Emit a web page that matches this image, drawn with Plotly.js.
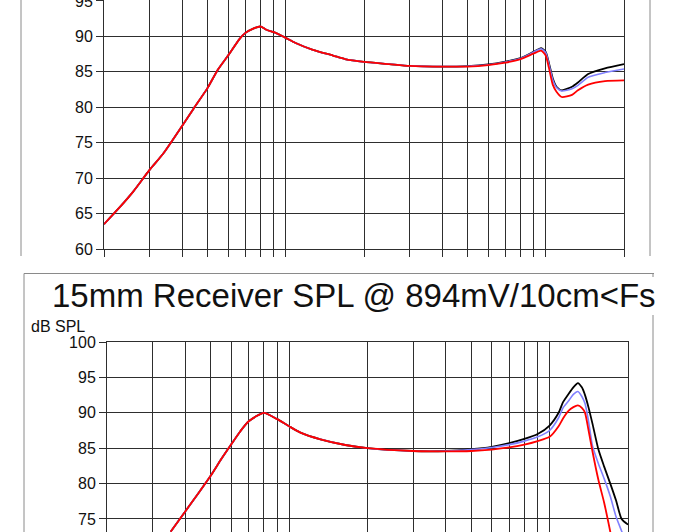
<!DOCTYPE html>
<html>
<head>
<meta charset="utf-8">
<script src="https://cdn.plot.ly/plotly-3.0.1.min.js"></script>
<style>
html,body{margin:0;padding:0;background:#fff;}
#chart{width:690px;height:532px;}
</style>
</head>
<body>
<div id="chart"></div>
<script>
// ---------- Data ----------
// Top chart (cropped): frequency in Hz, SPL in dB
const topFreq  = [200, 230, 259, 300, 337, 400, 444, 500, 548, 600, 666, 700, 750, 800, 848, 900, 1000, 1086, 1272, 1520, 1690, 2000, 2500, 3000, 4000, 5000, 6000, 7000, 8000, 9000, 9600, 10000, 10280, 10640, 11000, 11520, 12620, 13300, 14560, 16900, 20000];
const topRed   = [63.5, 65.9, 68.1, 71.2, 73.4, 77.4, 79.9, 82.7, 85.3, 87.3, 89.7, 90.5, 91.1, 91.4, 90.9, 90.6, 89.8, 89.1, 88.1, 87.3, 86.8, 86.4, 86.1, 85.85, 85.75, 85.75, 85.95, 86.3, 86.8, 87.6, 88.0, 87.3, 85.6, 83.2, 82.2, 81.45, 81.75, 82.4, 83.2, 83.7, 83.8];
const topBlue  = [63.5, 65.9, 68.1, 71.2, 73.4, 77.4, 79.9, 82.7, 85.3, 87.3, 89.7, 90.5, 91.1, 91.4, 90.9, 90.6, 89.8, 89.1, 88.1, 87.3, 86.8, 86.4, 86.1, 85.85, 85.75, 85.8, 86.0, 86.4, 86.9, 87.8, 88.25, 87.7, 86.1, 83.9, 82.8, 82.3, 82.6, 83.1, 84.25, 84.9, 85.4];
const topBlack = [63.5, 65.9, 68.1, 71.2, 73.4, 77.4, 79.9, 82.7, 85.3, 87.3, 89.7, 90.5, 91.1, 91.4, 90.9, 90.6, 89.8, 89.1, 88.1, 87.3, 86.8, 86.4, 86.1, 85.85, 85.75, 85.82, 86.05, 86.45, 86.95, 87.85, 88.35, 87.8, 86.3, 84.1, 82.9, 82.4, 82.9, 83.5, 84.7, 85.5, 86.1];

// Bottom chart: 15mm Receiver SPL
const botFreq  = [351, 400, 450, 500, 550, 600, 650, 700, 800, 900, 1000, 1106, 1320, 1644, 2000, 3000, 4000, 5000, 6000, 7000, 8000, 9000, 10000, 10830, 11260, 11840, 12340, 12840, 13300, 13680, 14100, 14600, 15400, 16200, 17100, 18000, 18900, 20000];
const botRed   = [73.2, 76.1, 78.7, 81.1, 83.5, 85.55, 87.4, 88.8, 90.0, 89.1, 88.1, 87.2, 86.25, 85.45, 85.0, 84.6, 84.55, 84.6, 84.8, 85.1, 85.5, 86.0, 86.6, 88.1, 89.2, 90.3, 90.8, 91.05, 90.7, 90.0, 87.6, 84.6, 80.5, 77.3, 73.2, 69.0, 66.0, 63.0];
const botBlue  = [73.2, 76.1, 78.7, 81.1, 83.5, 85.55, 87.4, 88.8, 90.0, 89.1, 88.1, 87.2, 86.25, 85.45, 85.0, 84.6, 84.6, 84.8, 85.1, 85.5, 86.0, 86.6, 87.5, 89.3, 90.7, 91.7, 92.6, 93.0, 92.3, 91.3, 88.9, 85.4, 82.8, 80.7, 78.2, 75.3, 73.3, 71.0];
const botBlack = [73.2, 76.1, 78.7, 81.1, 83.5, 85.55, 87.4, 88.8, 90.0, 89.1, 88.1, 87.2, 86.25, 85.45, 85.0, 84.6, 84.6, 84.85, 85.2, 85.7, 86.3, 87.0, 88.2, 90.0, 91.5, 92.7, 93.6, 94.2, 93.6, 92.5, 90.8, 88.5, 84.8, 82.4, 80.0, 77.6, 75.0, 74.2];

// Grid / tick positions (Hz)
const gridFreq = [200, 300, 400, 500, 600, 700, 800, 900, 1000, 2000, 3000, 4000, 5000, 6000, 7000, 8000, 9000, 10000, 20000];
const titleText = "15mm Receiver SPL @ 894mV/10cm<Fs";
const yLabelText = "dB SPL";

// ---------- Chart ----------
const W = 690, H = 532;
const FONT = "Liberation Sans, Arial, sans-serif";
const GRID = "#2e2e2e";
const FRAME = "#8a8a8a";
const px = x => x / W;
const py = y => 1 - y / H;

function tr(x, y, color, width, xa, ya) {
  return {x: x, y: y, type: "scatter", mode: "lines",
          line: {color: color, width: width, shape: "spline", smoothing: 0.6},
          xaxis: xa, yaxis: ya, hoverinfo: "skip"};
}

const data = [
  tr(topFreq, topBlack, "#000000", 1.8, "x", "y"),
  tr(topFreq, topBlue, "#8080ff", 1.6, "x", "y"),
  tr(topFreq, topRed, "#ff0000", 1.8, "x", "y"),
  tr(botFreq, botBlack, "#000000", 1.8, "x2", "y2"),
  tr(botFreq, botBlue, "#8080ff", 1.6, "x2", "y2"),
  tr(botFreq, botRed, "#ff0000", 1.8, "x2", "y2")
];

function xAxis(d0, d1, anchor, mirror) {
  return {type: "log", range: [Math.log10(200), Math.log10(20000)], domain: [d0, d1], anchor: anchor,
          tickmode: "array", tickvals: gridFreq, showticklabels: false,
          ticks: "outside", ticklen: 7, tickwidth: 1, tickcolor: GRID,
          showgrid: true, gridcolor: GRID, gridwidth: 1,
          showline: true, linecolor: GRID, linewidth: 1, mirror: mirror, zeroline: false, fixedrange: true};
}
function yAxis(range, d0, d1, anchor) {
  return {range: range, domain: [d0, d1], anchor: anchor,
          tickmode: "linear", tick0: 0, dtick: 5,
          ticks: "outside", ticklen: 7, tickwidth: 1, tickcolor: GRID,
          ticklabeloverflow: "allow",
          tickfont: {family: FONT, size: 16, color: "#111"},
          showgrid: true, gridcolor: GRID, gridwidth: 1,
          showline: true, linecolor: GRID, linewidth: 1, mirror: true, zeroline: false, fixedrange: true};
}

function seg(x0, y0, x1, y1) {
  return {type: "line", xref: "paper", yref: "paper", x0: px(x0), y0: py(y0), x1: px(x1), y1: py(y1),
          line: {color: FRAME, width: 1}, layer: "above"};
}

const layout = {
  width: W, height: H,
  margin: {l: 0, r: 0, t: 0, b: 0, pad: 0},
  paper_bgcolor: "#ffffff", plot_bgcolor: "#ffffff",
  showlegend: false,
  font: {family: FONT, color: "#111"},
  xaxis: xAxis(px(104), px(624), "y", false),
  yaxis: yAxis([60, 95.14], py(249), 1, "x"),
  xaxis2: xAxis(px(107), px(628), "y2", true),
  yaxis2: yAxis([73.16, 100], 0, py(342), "x2"),
  shapes: [
    seg(21, 0, 21, 256),
    seg(650, 0, 650, 256),
    seg(24, 273.5, 24, 532),
    seg(24, 273.5, 654, 273.5),
    seg(653, 273.5, 653, 277),
    seg(653, 315, 653, 532)
  ],
  annotations: [
    {text: titleText, xref: "paper", yref: "paper", x: px(353.5), y: py(295), xanchor: "center", yanchor: "middle",
     showarrow: false, font: {family: FONT, size: 33, color: "#111"}},
    {text: yLabelText, xref: "paper", yref: "paper", x: px(29), y: py(326), xanchor: "left", yanchor: "middle",
     showarrow: false, font: {family: FONT, size: 16, color: "#111"}}
  ]
};

Plotly.newPlot("chart", data, layout, {staticPlot: true, displayModeBar: false});
</script>
</body>
</html>
